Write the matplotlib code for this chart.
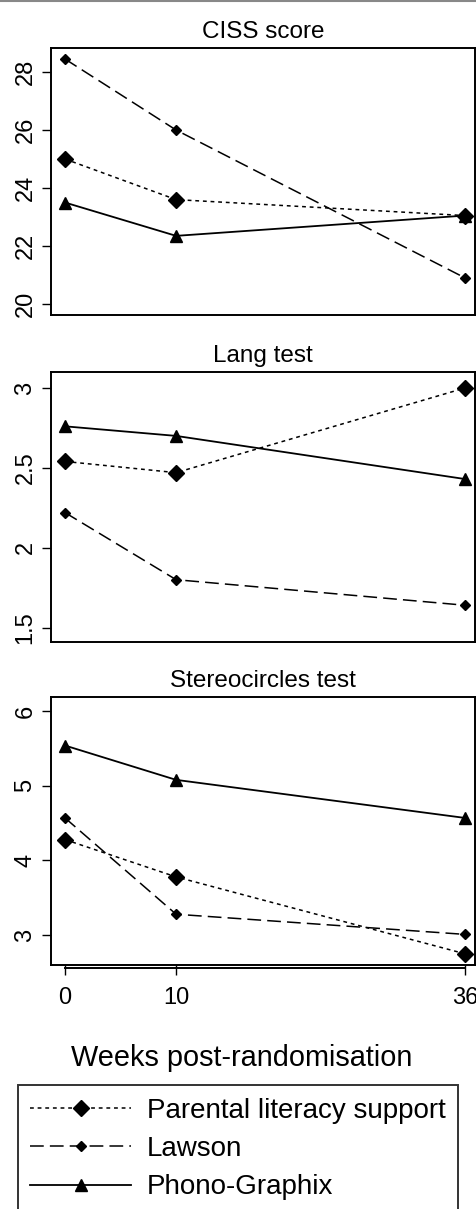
import matplotlib
matplotlib.use('Agg')
import matplotlib.pyplot as plt
import matplotlib.transforms as mtransforms
from matplotlib.lines import Line2D

plt.rcParams['font.family'] = ['Liberation Sans', 'DejaVu Sans']

weeks = [0, 10, 36]
panels = ['CISS score', 'Lang test', 'Stereocircles test']
groups = ['Parental literacy support', 'Lawson', 'Phono-Graphix']

ciss_parental = [25.0, 23.6, 23.05]
ciss_lawson = [28.45, 26.0, 20.9]
ciss_phono = [23.5, 22.35, 23.05]

lang_parental = [2.54, 2.47, 3.0]
lang_lawson = [2.22, 1.80, 1.64]
lang_phono = [2.76, 2.70, 2.43]

stereo_parental = [4.28, 3.78, 2.75]
stereo_lawson = [4.57, 3.28, 3.01]
stereo_phono = [5.54, 5.08, 4.57]

values = [
    [ciss_parental, ciss_lawson, ciss_phono],
    [lang_parental, lang_lawson, lang_phono],
    [stereo_parental, stereo_lawson, stereo_phono],
]
yticks = [[20, 22, 24, 26, 28], [1.5, 2, 2.5, 3], [3, 4, 5, 6]]
yticklabels = [['20', '22', '24', '26', '28'], ['1.5', '2', '2.5', '3'],
               ['3', '4', '5', '6']]
ylims = [(19.62, 28.83), (1.41, 3.10), (2.60, 6.19)]

styles = [
    dict(linestyle=(0, (2.5, 2.5)), marker='D', markersize=8.5, lw=1.1),
    dict(linestyle=(0, (9, 4)), marker='D', markersize=5, lw=1.1),
    dict(linestyle='-', marker='^', markersize=8, lw=1.3),
]

W, H = 477, 1209
fig = plt.figure(figsize=(W / 100, H / 100), dpi=100)

# axes boxes in pixels: (top, bottom)
boxes = [(48, 315), (372, 642), (697, 965)]
left, right = 51, 475

axes = []
for i, (top, bot) in enumerate(boxes):
    ax = fig.add_axes([left / W, 1 - bot / H, (right - left) / W, (bot - top) / H])
    for g in range(3):
        ax.plot(weeks, values[i][g], color='black', label=groups[g],
                markerfacecolor='black', markeredgecolor='black', **styles[g])
    ax.set_xlim(-1.26, 36.9)
    ax.set_ylim(*ylims[i])
    ax.set_yticks(yticks[i])
    ax.set_yticklabels(yticklabels[i], rotation=90, va='center')
    ax.tick_params(axis='y', length=6.5, width=1.0, pad=4, labelsize=17)
    ax.set_title(panels[i], fontsize=17.5, pad=7)
    for sp in ax.spines.values():
        sp.set_linewidth(1.4)
    if i < 2:
        ax.set_xticks([])
    else:
        ax.set_xticks(weeks)
        ax.set_xticklabels([str(w) for w in weeks])
        ax.tick_params(axis='x', length=7, width=1.0, pad=9, labelsize=17)
        # R-style axis line running from first to last tick
        trans = mtransforms.blended_transform_factory(ax.transData, ax.transAxes)
        ax.plot([weeks[0], weeks[-1]], [-0.012, -0.012], color='black',
                lw=1.4, transform=trans, clip_on=False)
    axes.append(ax)

fig.text(242 / W, 1 - 1058 / H, 'Weeks post-randomisation', fontsize=20.8,
         ha='center', va='center')

handles, labels = axes[2].get_legend_handles_labels()
leg = fig.legend(handles, labels, loc='upper left',
                 bbox_to_anchor=(18 / W, 1 - 1085 / H), fontsize=20,
                 frameon=True, fancybox=False, edgecolor='black',
                 handlelength=3.6, handletextpad=0.6, labelspacing=0.45,
                 borderpad=0.45, borderaxespad=0)
leg.get_frame().set_linewidth(1.4)

fig.add_artist(Line2D([0, 1], [0.999, 0.999], color='#888888', lw=1.5,
                      transform=fig.transFigure))

fig.savefig('out.png', dpi=100)
